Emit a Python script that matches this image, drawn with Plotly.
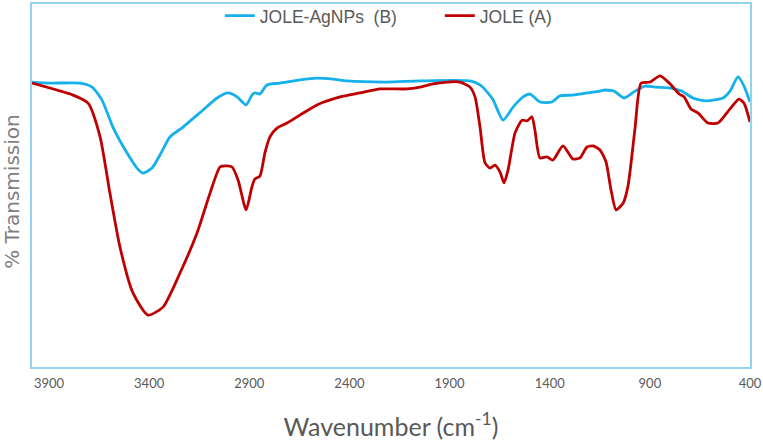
import plotly.graph_objects as go

# Wavenumber (cm-1) and % transmission (arbitrary scale)
jole_wn = [3985, 3780, 3705, 3645, 3596, 3546, 3481, 3406, 3331, 3246, 3161, 3096, 3046,
           3011, 2986, 2956, 2916, 2887, 2872, 2847, 2822, 2797, 2762, 2712, 2647, 2562,
           2447, 2347, 2247, 2113, 2048, 1983, 1913, 1848, 1798, 1773, 1748, 1723, 1698,
           1673, 1648, 1628, 1608, 1573, 1538, 1513, 1489, 1474, 1449, 1414, 1384, 1334,
           1284, 1249, 1214, 1184, 1149, 1119, 1094, 1069, 1033, 1009, 974, 944, 899, 849,
           799, 754, 729, 695, 660, 610, 560, 500, 455, 430, 400]
jole_t = [78.2, 74.9, 72.7, 63.4, 47.9, 33.1, 20.4, 14.3, 16.5, 25.9, 36.9, 47.9, 55.1,
          55.4, 55.1, 51.5, 43.3, 49.6, 51.8, 52.6, 59.0, 63.4, 65.8, 67.2, 69.4, 72.2,
          74.4, 75.5, 76.6, 76.6, 77.1, 78.0, 78.5, 78.5, 77.1, 74.4, 66.1, 56.2, 54.8,
          55.6, 53.7, 50.7, 54.3, 64.5, 68.0, 67.8, 68.9, 65.3, 57.6, 57.9, 57.0, 60.9,
          57.3, 57.6, 60.6, 60.9, 59.8, 56.5, 48.8, 43.3, 45.2, 49.9, 65.8, 78.2, 78.5, 80.2,
          78.0, 75.2, 74.4, 71.1, 70.0, 67.2, 67.2, 71.1, 73.8, 72.7, 67.5]

agnp_wn = [3985, 3895, 3745, 3685, 3636, 3581, 3511, 3461, 3431, 3386, 3346, 3296, 3231,
           3131, 3061, 3006, 2961, 2916, 2887, 2872, 2847, 2812, 2747, 2647, 2562, 2482,
           2412, 2212, 2048, 1798, 1748, 1713, 1683, 1633, 1583, 1533, 1498, 1449, 1389,
           1349, 1284, 1214, 1149, 1129, 1079, 1029, 974, 924, 874, 804, 740, 685, 620,
           535, 500, 460, 430, 400]
agnp_t = [78.5, 78.2, 78.2, 77.1, 73.6, 66.1, 59.0, 54.8, 53.4, 54.8, 58.4, 63.4, 66.1,
          70.8, 74.1, 75.5, 74.4, 72.2, 74.9, 75.5, 75.2, 77.7, 78.2, 79.1, 79.6, 79.3,
          78.8, 78.5, 78.8, 78.8, 77.7, 75.8, 73.6, 68.0, 71.6, 74.4, 75.2, 73.0, 73.0,
          74.7, 74.9, 75.5, 76.0, 76.3, 76.0, 74.1, 76.0, 77.4, 77.1, 76.9, 76.0, 74.1, 73.3,
          74.1, 76.0, 79.9, 77.4, 73.0]

x_ticks = [3900, 3400, 2900, 2400, 1900, 1400, 900, 400]

fig = go.Figure()
fig.add_trace(go.Scatter(x=agnp_wn, y=agnp_t, mode="lines", name="JOLE-AgNPs&nbsp; (B)",
                         line=dict(color="#16B0EC", width=2.8, shape="spline", smoothing=0.6)))
fig.add_trace(go.Scatter(x=jole_wn, y=jole_t, mode="lines", name="JOLE (A)",
                         line=dict(color="#C00000", width=2.8, shape="spline", smoothing=0.6)))

border = "#92D3F0"
fig.update_layout(
    width=763, height=444,
    margin=dict(l=32, r=13, t=4, b=77, autoexpand=False),
    paper_bgcolor="white", plot_bgcolor="white",
    showlegend=True,
    legend=dict(orientation="h", x=0.568, xanchor="center", y=1.017, yanchor="top",
                font=dict(family="Liberation Sans, Arial, sans-serif", size=17.5, color="#595959"),
                bgcolor="rgba(0,0,0,0)", itemwidth=30, entrywidth=175, traceorder="normal"),
    xaxis=dict(range=[3985, 400], tickvals=x_ticks, ticktext=[str(v) for v in x_ticks],
               automargin=False,
               showgrid=False, zeroline=False, showline=True, mirror=True,
               linecolor=border, linewidth=1.5, ticks="", ticklabelstandoff=4,
               tickfont=dict(family="Lato, sans-serif", size=13, color="#595959"),
               title=dict(text="Wavenumber (cm<sup>-1</sup>)", standoff=28,
                          font=dict(family="Lato, sans-serif", size=25, color="#595959"))),
    yaxis=dict(range=[0, 100], showticklabels=False, showgrid=False, zeroline=False,
               automargin=False,
               showline=True, mirror=True, linecolor=border, linewidth=1.5, ticks=""),
    annotations=[dict(text="% Transmission", xref="paper", yref="paper",
                      x=-0.028, y=0.485, xanchor="center", yanchor="middle",
                      textangle=-90, showarrow=False,
                      font=dict(family="DejaVu Sans, sans-serif", size=20, color="#7F7F7F"))],
)

fig.write_html("out.html", post_script="document.body.style.margin='0';",
               config={"displayModeBar": False})
